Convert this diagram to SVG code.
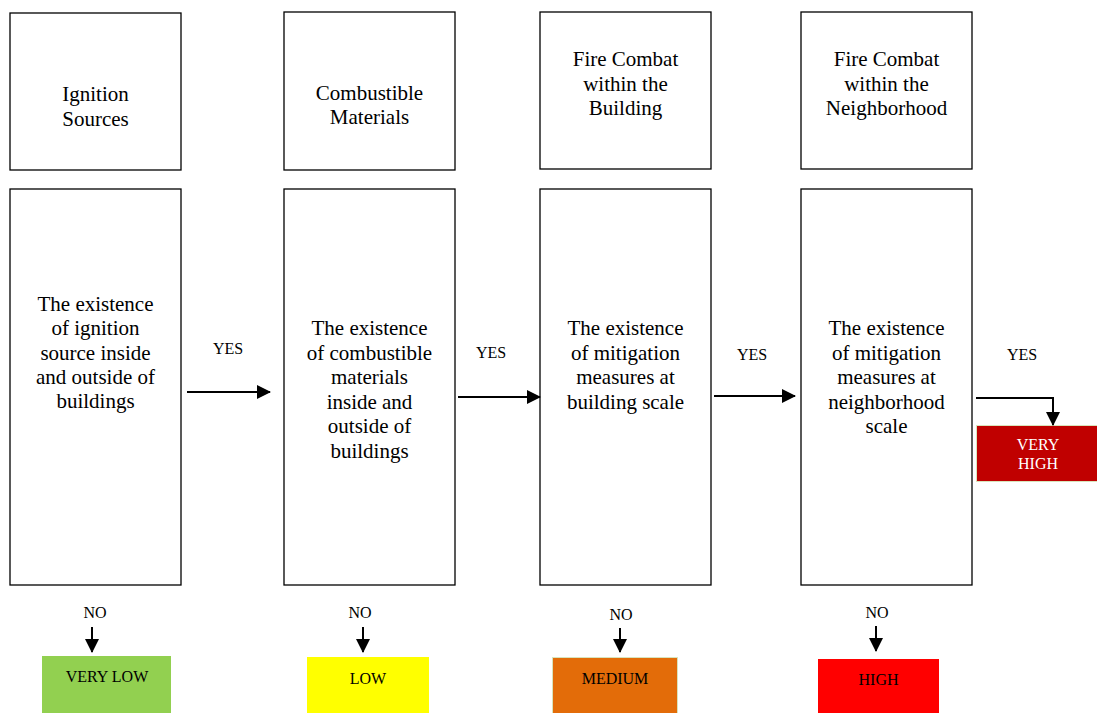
<svg xmlns="http://www.w3.org/2000/svg" width="1097" height="713" viewBox="0 0 1097 713">
  <defs>
    <marker id="arrow" markerWidth="14" markerHeight="14" refX="13" refY="7" orient="auto" markerUnits="userSpaceOnUse" viewBox="0 0 14 14">
      <path d="M0,0 L14,7 L0,14 Z" fill="#000"/>
    </marker>
    <style>
      .box { fill: #fff; stroke: #000; stroke-width: 1.3; }
      text { font-family: 'Liberation Serif', 'DejaVu Serif', serif; }
      .t { font-size: 21px; fill: #000; text-anchor: middle; }
      .lbl { font-size: 16px; fill: #000; text-anchor: middle; }
      .lvl { font-size: 16px; text-anchor: middle; }
      .line { fill: none; stroke: #000; stroke-width: 2; }
    </style>
  </defs>
  <rect width="1097" height="713" fill="#fff"/>

  <!-- Column 1: ignition -->
  <g id="ignition-title">
    <rect class="box" x="10" y="13" width="171" height="157"/>
    <text class="t" x="95.5" y="101">Ignition</text>
    <text class="t" x="95.5" y="126">Sources</text>
  </g>
  <g id="ignition-question">
    <rect class="box" x="10" y="189" width="171" height="396"/>
    <text class="t" x="95.5" y="311">The existence</text>
    <text class="t" x="95.5" y="335">of ignition</text>
    <text class="t" x="95.5" y="360">source inside</text>
    <text class="t" x="95.5" y="384">and outside of</text>
    <text class="t" x="95.5" y="408">buildings</text>
  </g>

  <!-- Column 2: combustible materials -->
  <g id="combustible-title">
    <rect class="box" x="284" y="12" width="171" height="158"/>
    <text class="t" x="369.5" y="100">Combustible</text>
    <text class="t" x="369.5" y="124">Materials</text>
  </g>
  <g id="combustible-question">
    <rect class="box" x="284" y="189" width="171" height="396"/>
    <text class="t" x="369.5" y="335">The existence</text>
    <text class="t" x="369.5" y="360">of combustible</text>
    <text class="t" x="369.5" y="384">materials</text>
    <text class="t" x="369.5" y="409">inside and</text>
    <text class="t" x="369.5" y="433">outside of</text>
    <text class="t" x="369.5" y="458">buildings</text>
  </g>

  <!-- Column 3: building scale -->
  <g id="building-title">
    <rect class="box" x="540" y="12" width="171" height="157"/>
    <text class="t" x="625.5" y="66">Fire Combat</text>
    <text class="t" x="625.5" y="91">within the</text>
    <text class="t" x="625.5" y="115">Building</text>
  </g>
  <g id="building-question">
    <rect class="box" x="540" y="189" width="171" height="396"/>
    <text class="t" x="625.5" y="335">The existence</text>
    <text class="t" x="625.5" y="360">of mitigation</text>
    <text class="t" x="625.5" y="384">measures at</text>
    <text class="t" x="625.5" y="409">building scale</text>
  </g>

  <!-- Column 4: neighborhood scale -->
  <g id="neighborhood-title">
    <rect class="box" x="801" y="12" width="171" height="157"/>
    <text class="t" x="886.5" y="66">Fire Combat</text>
    <text class="t" x="886.5" y="91">within the</text>
    <text class="t" x="886.5" y="115">Neighborhood</text>
  </g>
  <g id="neighborhood-question">
    <rect class="box" x="801" y="189" width="171" height="396"/>
    <text class="t" x="886.5" y="335">The existence</text>
    <text class="t" x="886.5" y="360">of mitigation</text>
    <text class="t" x="886.5" y="384">measures at</text>
    <text class="t" x="886.5" y="409">neighborhood</text>
    <text class="t" x="886.5" y="433">scale</text>
  </g>

  <!-- Risk levels -->
  <g id="very-low">
    <rect x="42" y="656" width="129" height="57" fill="#92d050"/>
    <text class="lvl" x="107" y="682" fill="#000">VERY LOW</text>
  </g>
  <g id="low">
    <rect x="307" y="657" width="122" height="56" fill="#ffff00"/>
    <text class="lvl" x="368" y="684" fill="#000">LOW</text>
  </g>
  <g id="medium">
    <rect x="552.5" y="657.5" width="125" height="56" fill="#e36c09" stroke="#d8e4bc" stroke-width="1"/>
    <text class="lvl" x="615" y="684" fill="#000">MEDIUM</text>
  </g>
  <g id="high">
    <rect x="818" y="659" width="121" height="54" fill="#ff0000"/>
    <text class="lvl" x="878.5" y="685" fill="#000">HIGH</text>
  </g>
  <g id="very-high">
    <rect x="976.5" y="425.5" width="121" height="56" fill="#c00000" stroke="#d8e4bc" stroke-width="1"/>
    <text class="lvl" x="1038" y="450" fill="#fff">VERY</text>
    <text class="lvl" x="1038" y="469" fill="#fff">HIGH</text>
  </g>

  <!-- Connectors -->
  <g id="connectors">
    <path class="line" d="M187,392 H270" marker-end="url(#arrow)"/>
    <path class="line" d="M458,397 H540" marker-end="url(#arrow)"/>
    <path class="line" d="M714,396 H795" marker-end="url(#arrow)"/>
    <path class="line" d="M976,398 H1053 V425" marker-end="url(#arrow)"/>

    <path class="line" d="M92,627 V652" marker-end="url(#arrow)"/>
    <path class="line" d="M363,627 V652" marker-end="url(#arrow)"/>
    <path class="line" d="M620,628 V652" marker-end="url(#arrow)"/>
    <path class="line" d="M876,626 V651" marker-end="url(#arrow)"/>

    <text class="lbl" x="228" y="354">YES</text>
    <text class="lbl" x="491" y="358">YES</text>
    <text class="lbl" x="752" y="360">YES</text>
    <text class="lbl" x="1022" y="360">YES</text>

    <text class="lbl" x="95" y="618">NO</text>
    <text class="lbl" x="360" y="618">NO</text>
    <text class="lbl" x="621" y="620">NO</text>
    <text class="lbl" x="877" y="618">NO</text>
  </g>
</svg>
